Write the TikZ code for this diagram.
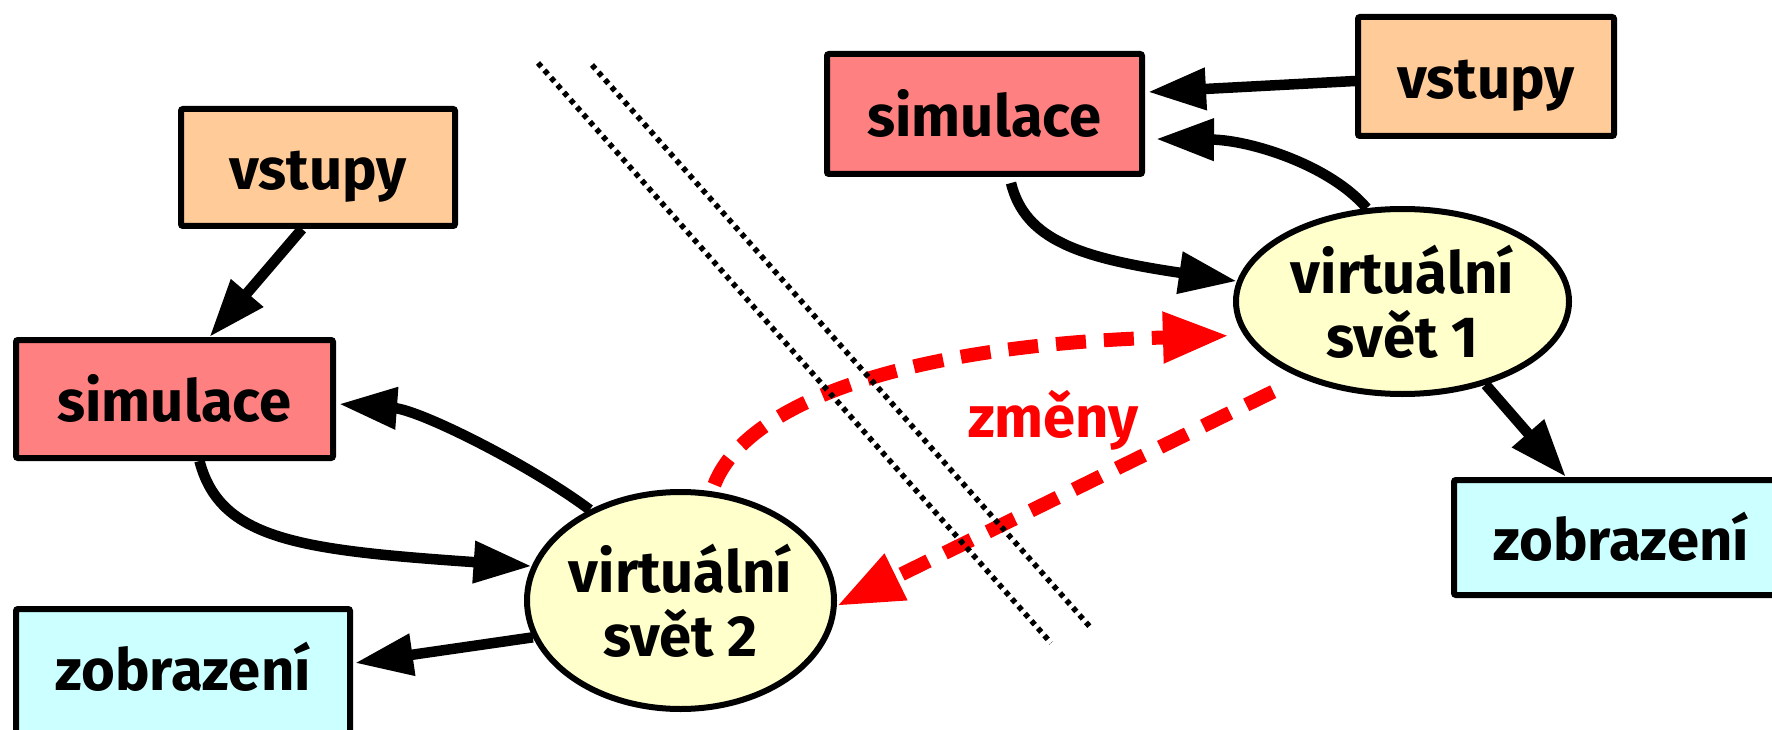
\documentclass[tikz,border=0pt]{standalone}
\usepackage{fontspec}
\setmainfont{Fira Sans}
\usetikzlibrary{arrows.meta,shapes.geometric,calc}
\definecolor{cin}{HTML}{FFCC99}
\definecolor{csim}{HTML}{FF8080}
\definecolor{cout}{HTML}{CCFFFF}
\definecolor{cvw}{HTML}{FFFFCC}
\begin{document}
\begin{tikzpicture}[x=1pt,y=-1pt,
  every node/.style={font=\fontsize{58}{64}\selectfont\bfseries},
  box/.style={draw=black,line width=6pt,rounded corners=2pt,inner sep=0pt,text height=45pt,text depth=0pt},
  world/.style={ellipse,draw=black,line width=6pt,fill=cvw,inner sep=0pt},
  conn/.style={line width=10.5pt,-{Triangle[length=58pt,width=40pt]}},
  change/.style={red,line width=14pt,dash pattern=on 30pt off 18pt,-{Triangle[length=66pt,width=48pt]}},
  sep/.style={line width=5.5pt,dash pattern=on 5pt off 4.8pt}
]
\useasboundingbox (0,0) rectangle (1772,730);

% left system
\node[box,fill=cin,minimum width=274pt,minimum height=117pt] (vs1) at (318,167.5) {vstupy};
\node[box,fill=csim,minimum width=317pt,minimum height=118pt] (sim1) at (174.5,399) {simulace};
\node[box,fill=cout,minimum width=334pt,minimum height=128pt,text height=34pt] (zob1) at (183,673) {zobrazení};
\node[world,minimum width=307pt,minimum height=217pt] (e2) at (680.5,600.5) {};
\node[align=center] (e2t) at (e2.center) {virtuální\\svět 2};

% right system
\node[box,fill=csim,minimum width=315pt,minimum height=120pt] (sim2) at (984.5,114) {simulace};
\node[box,fill=cin,minimum width=256pt,minimum height=119pt] (vs2) at (1486,76.5) {vstupy};
\node[box,fill=cout,minimum width=334pt,minimum height=115pt] (zob2) at (1621,537.5) {zobrazení};
\node[world,minimum width=333pt,minimum height=185pt] (e1) at (1402.5,301.5) {};
\node[align=center] (e1t) at (e1.center) {virtuální\\svět 1};

% black connectors
\draw[conn] ($(vs1.south)+(-16,0)$) -- ($(sim1.north)+(35,0)$);
\draw[conn] (e2.135) .. controls (530,465) and (420,410) .. ($(sim1.east)+(3,5)$);
\draw[conn] ($(sim1.south)+(25,0)$) .. controls (220,540) and (300,550) .. (e2.167);
\draw[conn] (e2.194) -- ($(zob1.east)+(2,-10)$);
\draw[conn] ($(vs2.west)+(0,4.5)$) -- ($(sim2.east)+(3,-22)$);
\draw[conn] (e1.111) .. controls (1330,165) and (1250,140) .. ($(sim2.east)+(11,25)$);
\draw[conn] ($(sim2.south)+(26.5,6)$) .. controls (1025,240) and (1080,258) .. (e1.173);
\draw[conn] (e1.-45.7) -- ($(zob2.north)+(-55,0)$);

% red changes
\draw[change,shorten <=7pt,shorten >=15pt] (e2.74) .. controls (745,405) and (900,345) .. (e1.192);
\draw[change,shorten <=31pt] (e1.217) -- (e2.-2.5);
\node[red,anchor=base] (zm) at (1053.5,437) {změny};

% separator
\coordinate (d1a) at (538,63);
\coordinate (d1b) at (1051,643);
\coordinate (d2a) at (592,65);
\coordinate (d2b) at (1091,628);
\draw[sep] (d1a) -- (d1b);
\draw[sep] (d2a) -- (d2b);
\end{tikzpicture}
\end{document}
